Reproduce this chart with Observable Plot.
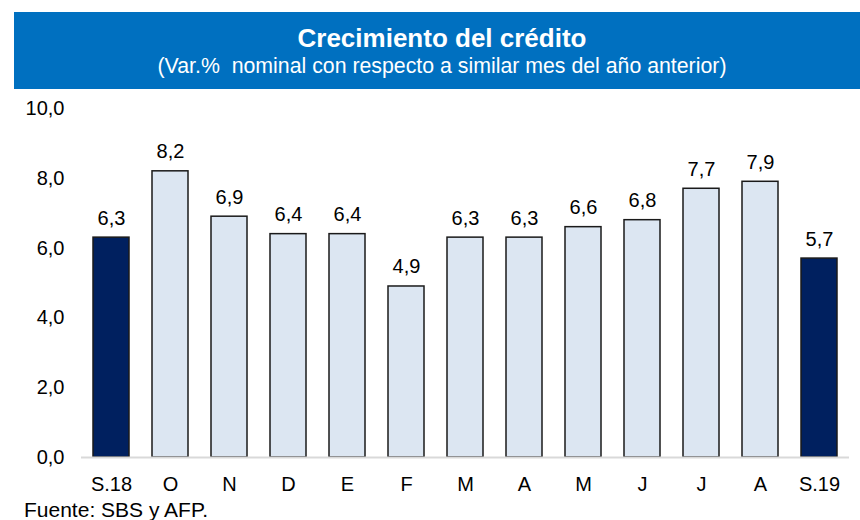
<!DOCTYPE html>
<html>
<head>
<meta charset="utf-8">
<script src="https://cdn.jsdelivr.net/npm/d3@7"></script>
<script src="https://cdn.jsdelivr.net/npm/@observablehq/plot@0.6"></script>
<style>
  html, body { margin: 0; padding: 0; background: #fff; }
  #wrap { position: relative; width: 860px; height: 520px; overflow: hidden; font-family: "Liberation Sans", Arial, sans-serif; color: #000; }
  #banner { position: absolute; left: 14px; top: 12px; width: 846px; height: 77px; background: #0070C0; }
  .t { position: absolute; white-space: pre; line-height: 1; }
  #title { left: 0; width: 884px; text-align: center; top: 25px; font-size: 26px; font-weight: bold; color: #fff; }
  #subtitle { left: 0; width: 884px; text-align: center; top: 56px; font-size: 21.3px; color: #fff; }
  #chart { position: absolute; left: 0; top: 90px; }
  #caption { left: 24px; top: 499px; font-size: 21px; }
</style>
</head>
<body>
<div id="wrap">
  <div id="banner"></div>
  <div class="t" id="title">Crecimiento del crédito</div>
  <div class="t" id="subtitle">(Var.%  nominal con respecto a similar mes del año anterior)</div>
  <div id="chart"></div>
  <div class="t" id="caption">Fuente: SBS y AFP.</div>
</div>
<script>
const categories = ["S.18", "O", "N", "D", "E", "F", "M", "A", "M", "J", "J", "A", "S.19"];
const values = [6.3, 8.2, 6.9, 6.4, 6.4, 4.9, 6.3, 6.3, 6.6, 6.8, 7.7, 7.9, 5.7];
const yTicks = [0, 2, 4, 6, 8, 10];

const fmt = v => v.toFixed(1).replace(".", ",");
const data = categories.map((c, i) => ({ i, label: c, value: values[i], highlight: c.startsWith("S.") }));

const plot = Plot.plot({
  width: 860,
  height: 410,
  marginLeft: 81,
  marginRight: 11,
  marginTop: 18,
  marginBottom: 43,
  style: { fontFamily: '"Liberation Sans", Arial, sans-serif', fontSize: "20px", color: "#000", background: "transparent" },
  x: { domain: d3.range(categories.length), paddingInner: 0.39, paddingOuter: 0.195, label: null },
  y: { domain: [0, 10], label: null },
  marks: [
    Plot.barY(data, {
      x: "i", y: "value",
      fill: d => d.highlight ? "#00205F" : "#DCE6F2",
      stroke: "#1a1a1a", strokeWidth: 1.5
    }),
    Plot.ruleY([0], { stroke: "#D9D9D9", strokeWidth: 2 }),
    Plot.text(data, {
      x: "i", y: "value", text: d => fmt(d.value),
      lineAnchor: "bottom", dy: -13, fontSize: 20, fill: "#000"
    }),
    Plot.axisY(yTicks, { tickSize: 0, tickPadding: 17, tickFormat: fmt, fontSize: 20, label: null }),
    Plot.axisX({ tickSize: 0, tickPadding: 19, tickFormat: i => categories[i], fontSize: 20, label: null })
  ]
});
document.getElementById("chart").appendChild(plot);
</script>
</body>
</html>
